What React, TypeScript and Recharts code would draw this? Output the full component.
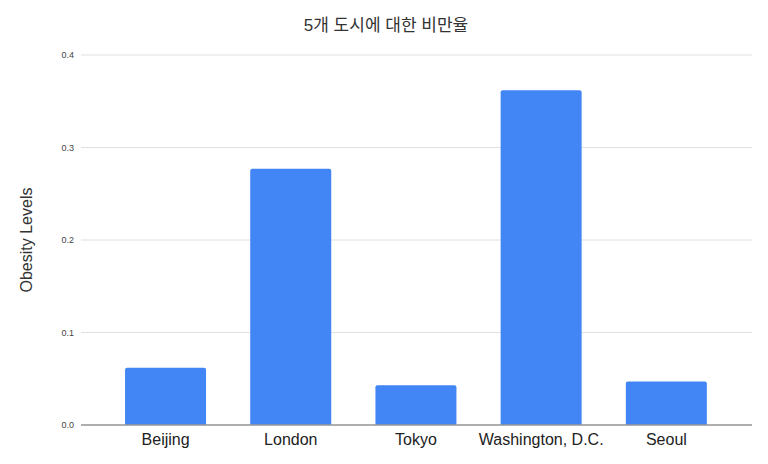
import { Bar, BarChart, CartesianGrid, Label, XAxis, YAxis } from 'recharts';

const cities = ['Beijing', 'London', 'Tokyo', 'Washington, D.C.', 'Seoul'];
const obesity = [0.062, 0.277, 0.043, 0.362, 0.047];
const yTicks = [0, 0.1, 0.2, 0.3, 0.4];

const data = cities.map((city, i) => ({ city, value: obesity[i] }));

const font = '"Liberation Sans", Arial, "Noto Sans CJK KR", sans-serif';

export default function App() {
  return (
    <div style={{ position: 'fixed', left: 0, top: 0, width: 768, height: 464, background: '#fff', fontFamily: font }}>
      <div
        style={{
          position: 'absolute',
          top: 11,
          left: 0,
          width: 772,
          textAlign: 'center',
          fontSize: 17,
          color: '#333',
          fontFamily: '"Liberation Sans", "Noto Sans CJK KR", sans-serif'
        }}
      >
        5개 도시에 대한 비만율
      </div>
      <BarChart
        width={768}
        height={464}
        data={data}
        margin={{ top: 55, right: 16, bottom: 0, left: 0 }}
        barCategoryGap="17.6%"
      >
        <CartesianGrid vertical={false} stroke="#e0e0e0" />
        <XAxis
          dataKey="city"
          tickLine={false}
          axisLine={{ stroke: '#999', strokeWidth: 1.5 }}
          interval={0}
          padding={{ left: 22, right: 23 }}
          height={39}
          tick={{ fill: '#222', fontSize: 16, fontFamily: font }}
          tickMargin={3}
        />
        <YAxis
          width={81}
          domain={[0, 0.4]}
          ticks={yTicks}
          tickLine={false}
          axisLine={false}
          tickMargin={1}
          tick={{ fill: '#444', fontSize: 9, fontFamily: font }}
          tickFormatter={(v: number) => v.toFixed(1)}
        >
          <Label
            value="Obesity Levels"
            angle={-90}
            position="insideLeft"
            offset={26}
            style={{ fill: '#333', fontSize: 16, fontFamily: font, textAnchor: 'middle' }}
          />
        </YAxis>
        <Bar dataKey="value" fill="#4285f4" radius={[2, 2, 0, 0]} isAnimationActive={false} />
      </BarChart>
    </div>
  );
}
